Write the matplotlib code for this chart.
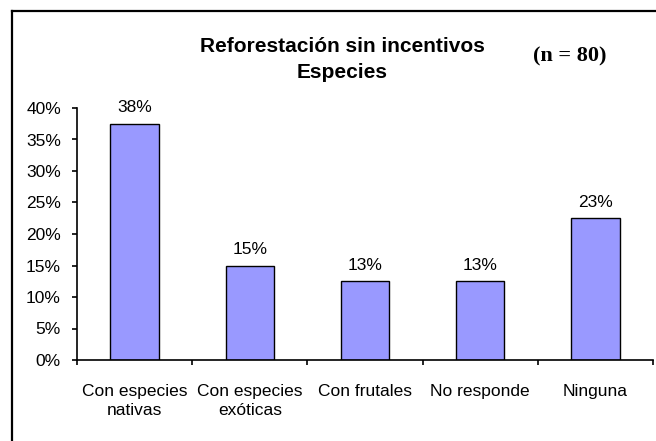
import matplotlib
matplotlib.use("Agg")
import matplotlib.pyplot as plt
from matplotlib.lines import Line2D
from matplotlib.ticker import FuncFormatter

# Data
categories = ['Con especies\nnativas', 'Con especies\nexóticas', 'Con frutales',
              'No responde', 'Ninguna']
values = [37.5, 15.0, 12.5, 12.5, 22.5]
labels = ['38%', '15%', '13%', '13%', '23%']
title_lines = ['Reforestación sin incentivos', 'Especies']
n_text = '(n = 80)'

plt.rcParams['font.family'] = ['Liberation Sans', 'DejaVu Sans']

W, H = 656, 441
fig = plt.figure(figsize=(W / 100, H / 100), dpi=100)
ax = fig.add_axes([77 / W, (H - 360) / H, (653 - 77) / W, (360 - 108) / H])

x = range(len(categories))
bars = ax.bar(x, values, width=0.42, color='#9999FF', edgecolor='black', linewidth=1.0)

for b, lab in zip(bars, labels):
    ax.annotate(lab, (b.get_x() + b.get_width() / 2, b.get_height()),
                xytext=(0, 8.4), textcoords='offset points',
                ha='center', va='baseline', fontsize=12.5)

ax.set_xlim(-0.5, len(categories) - 0.5)
ax.set_ylim(0, 40)
ax.set_yticks(range(0, 41, 5))
ax.yaxis.set_major_formatter(FuncFormatter(lambda v, p: f'{v:.0f}%'))

# category boundary ticks on x axis
ax.set_xticks([i - 0.5 for i in range(len(categories) + 1)])
ax.set_xticklabels([])
ax.set_xticks(list(x), minor=True)
ax.set_xticklabels(categories, minor=True, fontsize=12.5, linespacing=1.4)
ax.tick_params(axis='x', which='minor', length=0, pad=17)
ax.tick_params(axis='x', which='major', length=3.6, width=1.2, direction='out')
ax.tick_params(axis='y', length=3.6, width=1.2, direction='out', pad=8, labelsize=12.5)

for s in ['top', 'right']:
    ax.spines[s].set_visible(False)
for s in ['left', 'bottom']:
    ax.spines[s].set_linewidth(1.2)

# title
fig.text(342 / W, 1 - 51.7 / H, title_lines[0], ha='center', va='baseline',
         fontsize=15, fontweight='bold')
fig.text(342 / W, 1 - 78.3 / H, title_lines[1], ha='center', va='baseline',
         fontsize=15, fontweight='bold')
fig.text(570 / W, 1 - 56.7 / H, n_text, ha='center', va='center',
         fontsize=16, fontweight='bold', family='Liberation Serif')

# outer frame (left and top edges visible)
fig.add_artist(Line2D([12 / W, 12 / W], [0, 1 - 11 / H], color='black', lw=1.6,
                      transform=fig.transFigure))
fig.add_artist(Line2D([12 / W, 1], [1 - 11 / H, 1 - 11 / H], color='black', lw=1.6,
                      transform=fig.transFigure))

fig.savefig('out.png', dpi=100)
